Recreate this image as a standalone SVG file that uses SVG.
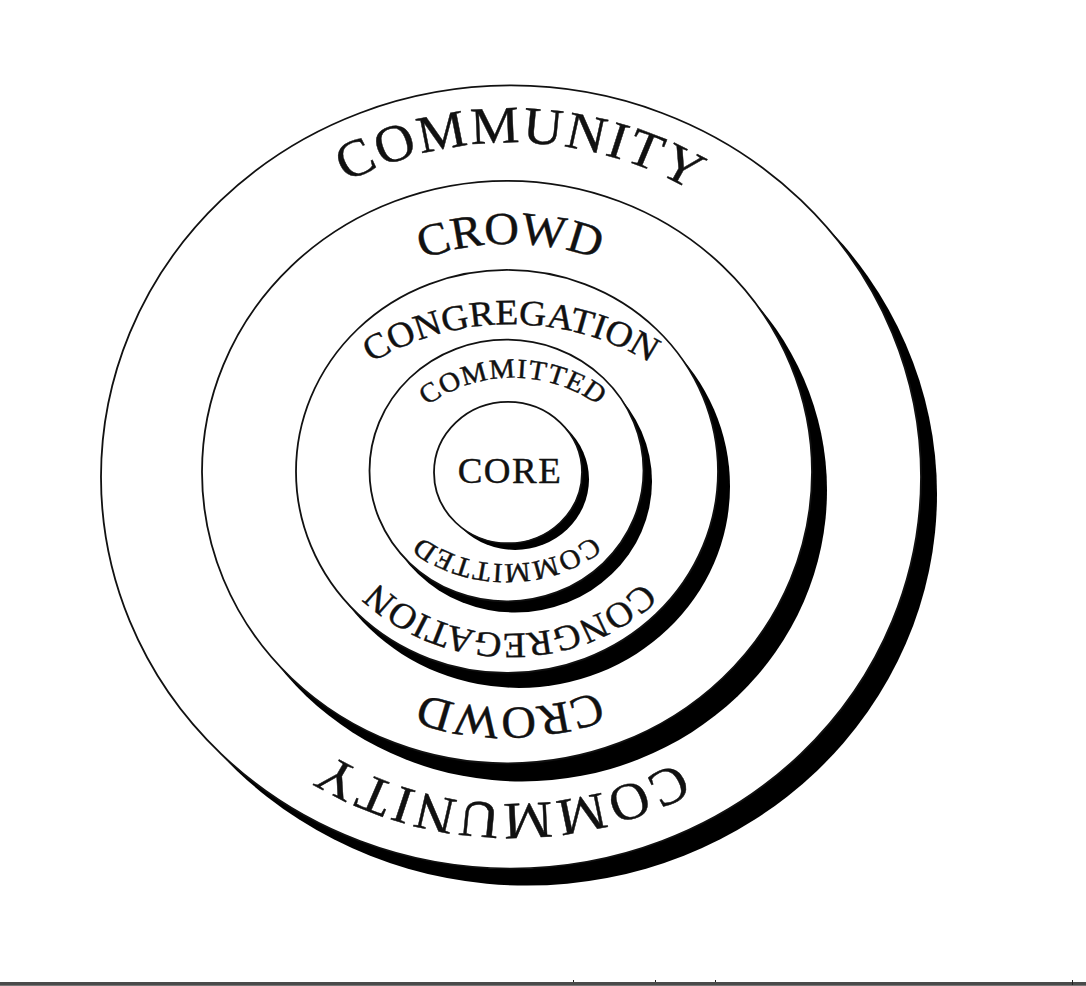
<svg xmlns="http://www.w3.org/2000/svg" xmlns:xlink="http://www.w3.org/1999/xlink" width="1086" height="986" viewBox="0 0 1086 986">
<style>
.ring{fill:#fff;stroke:#111;stroke-width:1.8}
.shadow{fill:#000}
.lbl{font-family:"Liberation Serif","Times New Roman",serif;fill:#111;stroke:#111;stroke-width:0.45;text-anchor:middle}
</style>
<defs>
<path id="p-comm-top" d="M161,477.2 A350,350 0 1,1 861,477.2 A350,350 0 1,1 161,477.2"/>
<path id="p-comm-bot" d="M169,477.2 A342,342 0 1,1 853,477.2 A342,342 0 1,1 169,477.2"/>
<path id="p-crowd-top" d="M260,483 A250,250 0 1,1 760,483 A250,250 0 1,1 260,483"/>
<path id="p-crowd-bot" d="M260,472 A247,247 0 1,1 754,472 A247,247 0 1,1 260,472"/>
<path id="p-cong-top" d="M250,578.5 A261,261 0 1,1 772,578.5 A261,261 0 1,1 250,578.5"/>
<path id="p-cong-bot" d="M320,451.4 A190,190 0 1,1 700,451.4 A190,190 0 1,1 320,451.4"/>
<path id="p-cmt-top" d="M373,513.4 A140,140 0 1,1 653,513.4 A140,140 0 1,1 373,513.4"/>
<path id="p-cmt-bot" d="M366.5,428.3 A140,140 0 1,1 646.5,428.3 A140,140 0 1,1 366.5,428.3"/>
</defs>
<rect x="0" y="0" width="1086" height="986" fill="#fff"/>
<g transform="matrix(1 0 0 0.955 0 21.285)">
<g id="community">
<circle class="shadow" cx="527" cy="495" r="410"/>
<circle class="ring" cx="511" cy="477.2" r="410"/>
<text class="lbl" font-size="55" letter-spacing="2"><textPath xlink:href="#p-comm-top" startOffset="25.46%">COMMUNITY</textPath></text>
<text class="lbl" font-size="55" letter-spacing="2.5"><textPath xlink:href="#p-comm-bot" startOffset="75.47%">COMMUNITY</textPath></text>
</g>
<g id="crowd">
<circle class="shadow" cx="522" cy="491" r="305"/>
<circle class="ring" cx="507" cy="472" r="305"/>
<text class="lbl" font-size="48" letter-spacing="0"><textPath xlink:href="#p-crowd-top" startOffset="25%">CROWD</textPath></text>
<text class="lbl" font-size="48" letter-spacing="0"><textPath xlink:href="#p-crowd-bot" startOffset="74.8%">CROWD</textPath></text>
</g>
<g id="congregation">
<circle class="shadow" cx="519" cy="487" r="211"/>
<circle class="ring" cx="507" cy="471.4" r="211"/>
<text class="lbl" font-size="37.5" letter-spacing="0"><textPath xlink:href="#p-cong-top" startOffset="25%">CONGREGATION</textPath></text>
<text class="lbl" font-size="37.5" letter-spacing="0"><textPath xlink:href="#p-cong-bot" startOffset="75%">CONGREGATION</textPath></text>
</g>
<g id="committed">
<circle class="shadow" cx="515" cy="482" r="137"/>
<circle class="ring" cx="506.5" cy="470.4" r="137"/>
<text class="lbl" font-size="29" letter-spacing="1"><textPath xlink:href="#p-cmt-top" startOffset="25%">COMMITTED</textPath></text>
<text class="lbl" font-size="29" letter-spacing="1"><textPath xlink:href="#p-cmt-bot" startOffset="75%">COMMITTED</textPath></text>
</g>
<g id="core">
<circle class="shadow" cx="515" cy="479.5" r="74"/>
<circle class="ring" cx="508" cy="472.5" r="74"/>
<text class="lbl" x="510" y="483.5" font-size="37" letter-spacing="1.5">CORE</text>
</g>
</g>
<g id="connectors"></g>
<rect x="0" y="982" width="1086" height="3" fill="#4a4a4a"/>
<rect x="0" y="985" width="1086" height="1" fill="#777"/>
<rect x="573" y="980" width="1" height="2" fill="#222"/>
<rect x="655" y="980" width="1" height="2" fill="#222"/>
<rect x="715" y="980" width="1" height="2" fill="#222"/>
<rect x="1072" y="980" width="1" height="5" fill="#222"/>
</svg>
